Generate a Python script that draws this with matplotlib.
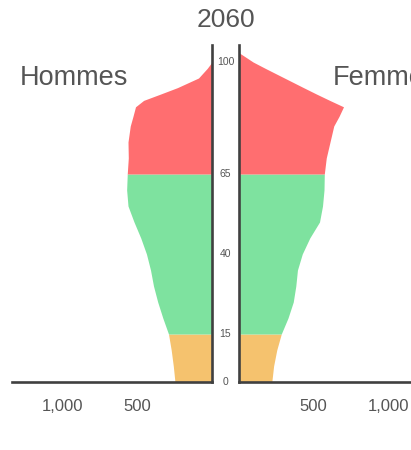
import numpy as np
import matplotlib
matplotlib.use('Agg')
import matplotlib.pyplot as plt
import matplotlib.transforms as mtransforms

# age pyramid 2060 (thousands)
ages = np.array([0, 5, 10, 15, 20, 25, 30, 35, 40, 45, 50, 55, 60, 65,
                 70, 75, 80, 83, 86, 88, 90, 92, 95, 98, 100, 103])
men = np.array([247, 258, 272, 290, 328, 362, 390, 410, 437, 475, 520, 560, 569, 565,
                558, 560, 545, 527, 510, 456, 342, 230, 90, 32, 0, 0])
women = np.array([222, 234, 255, 285, 330, 365, 382, 393, 425, 475, 540, 560, 570, 572,
                  585, 610, 635, 670, 700, 608, 519, 433, 306, 179, 97, 0])

groups = [(0, 15, '#f5c26e'), (15, 65, '#7ee29f'), (65, 103, '#ff6e70')]
age_ticks = [0, 15, 40, 65, 100]
x_ticks = [500, 1000]
x_labels = ['500', '1,000']

W, H = 411, 450
fig = plt.figure(figsize=(W / 100, H / 100), dpi=100)

base_y = 382
top_y = 45
px_per_year = 3.2
px_per_unit = 0.15
ymax = (base_y - top_y) / px_per_year

axL = fig.add_axes([12 / W, (H - base_y) / H, 200 / W, (base_y - top_y) / H])
axR = fig.add_axes([238.5 / W, (H - base_y) / H, (W - 238.5) / W, (base_y - top_y) / H])

axL.set_xlim(200 / px_per_unit, 0)
axR.set_xlim(0, (W - 238.5) / px_per_unit)

axis_col = '#404040'
text_col = '#555555'

for ax, vals, keep in [(axL, men, ['right', 'bottom']), (axR, women, ['left', 'bottom'])]:
    for lo, hi, col in groups:
        m = (ages >= lo) & (ages <= hi)
        ax.fill_betweenx(ages[m], 0, vals[m], color=col, lw=0)
    ax.set_ylim(0, ymax)
    for s in ax.spines:
        if s in keep:
            ax.spines[s].set_color(axis_col)
            ax.spines[s].set_linewidth(1.9)
        else:
            ax.spines[s].set_visible(False)
    ax.set_xticks(x_ticks)
    ax.set_xticklabels(x_labels, fontsize=12, color=text_col, family='Liberation Sans')
    ax.tick_params(axis='x', length=0, pad=12)
    ax.set_yticks([])
    ax.patch.set_alpha(0)

trans = mtransforms.blended_transform_factory(fig.transFigure, axL.transData)
for a in age_ticks:
    fig.text(225.5 / W, a, str(a), transform=trans, ha='center', va='center',
             fontsize=7.5, color=text_col, family='Liberation Sans')

fig.text(226 / W, 1 - 20 / H, '2060', ha='center', va='center', fontsize=19,
         color=text_col, family='Liberation Sans')
fig.text(20 / W, 1 - 78 / H, 'Hommes', ha='left', va='center', fontsize=19.5,
         color=text_col, family='Liberation Sans')
fig.text(333 / W, 1 - 78 / H, 'Femmes', ha='left', va='center', fontsize=19.5,
         color=text_col, family='Liberation Sans')

fig.savefig('out.png', dpi=100)
